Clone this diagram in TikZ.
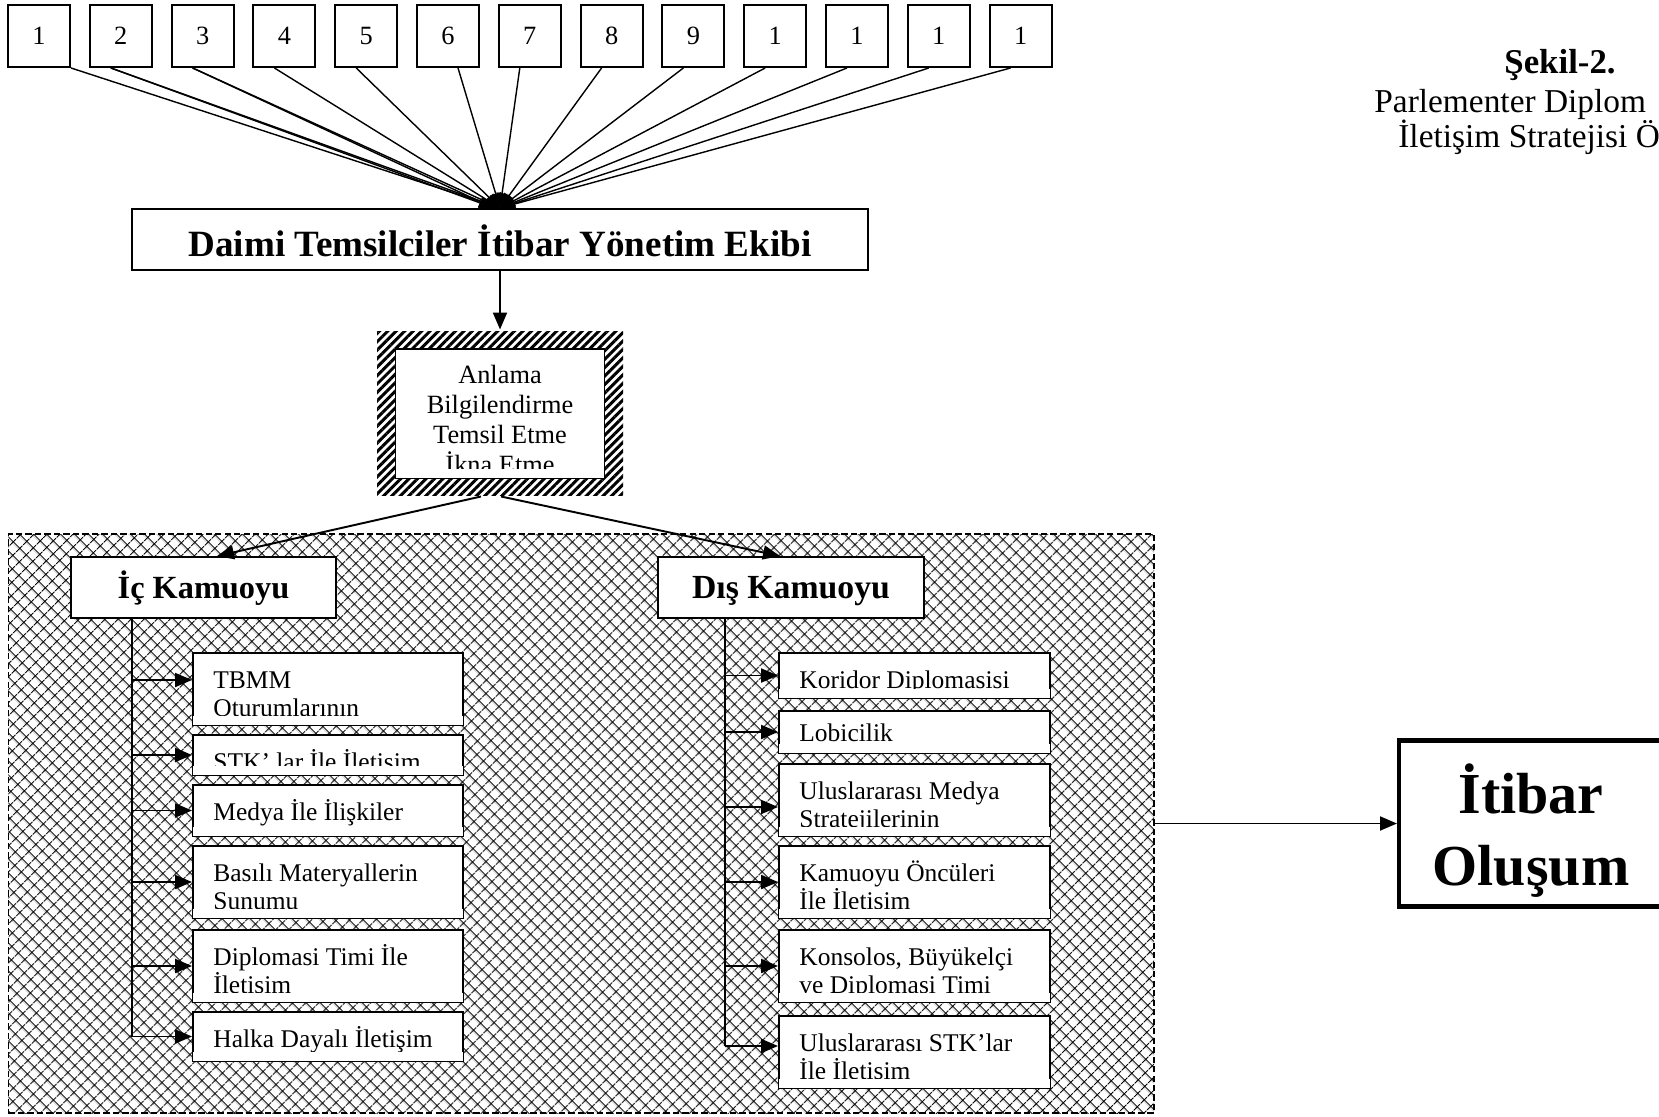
\documentclass[tikz,border=0pt]{standalone}
\usepackage{fontspec}
\setmainfont{Liberation Serif}
\usetikzlibrary{arrows.meta,patterns.meta}

\begin{document}
\begin{tikzpicture}[
        every node/.style={inner sep=0pt},
        numbox/.style={draw, line width=1.1pt, minimum width=1.24cm, minimum height=1.24cm, font=\fontsize{15}{18}\selectfont},
        fan/.style={line width=0.8pt, -{Triangle[length=0.3cm,width=0.22cm]}},
        arr/.style={line width=1.1pt, -{Triangle[length=0.34cm,width=0.28cm]}},
        topbox/.style={draw, fill=white, line width=1.1pt},
        leaf/.style={draw, fill=white, line width=1.1pt},
        leaftext/.style={anchor=north west, align=left, font=\fontsize{14.5}{15.9}\selectfont},
    ]
        \useasboundingbox (0,0) rectangle (33.18,-22.32);
        % crosshatched field behind both publics
        \node [draw, line width=0.9pt, dash pattern=on 3.6pt off 1.8pt, pattern={Hatch[angle=45,distance=5.4pt,line width=0.6pt]}, pattern color=black, minimum width=22.91cm, minimum height=11.58cm] (kamu) at (11.625,-16.47) {};
        \node [numbox] (n1) at (0.78,-0.72) {1};
        \node [numbox] (n2) at (2.416,-0.72) {2};
        \node [numbox] (n3) at (4.052,-0.72) {3};
        \node [numbox] (n4) at (5.688,-0.72) {4};
        \node [numbox] (n5) at (7.324,-0.72) {5};
        \node [numbox] (n6) at (8.96,-0.72) {6};
        \node [numbox] (n7) at (10.596,-0.72) {7};
        \node [numbox] (n8) at (12.232,-0.72) {8};
        \node [numbox] (n9) at (13.868,-0.72) {9};
        \node [numbox] (n10) at (15.504,-0.72) {1};
        \node [numbox] (n11) at (17.14,-0.72) {1};
        \node [numbox] (n12) at (18.776,-0.72) {1};
        \node [numbox] (n13) at (20.412,-0.72) {1};
        \node [topbox, minimum width=14.72cm, minimum height=1.22cm, text height=0.8cm, text depth=0.1cm, font=\bfseries\fontsize{21.1}{25}\selectfont] (ekip) at (10,-4.79) {Daimi Temsilciler İtibar Yönetim Ekibi};
        \draw [fan] (n1.south east) -- (ekip.north);
        \draw [fan] ([xshift=-0.2cm]n2.south) -- (ekip.north);
        \draw [fan] ([xshift=-0.2cm]n2.south) -- ([xshift=-0.12cm]ekip.north);
        \draw [fan] ([xshift=-0.2cm]n3.south) -- (ekip.north);
        \draw [fan] ([xshift=-0.2cm]n3.south) -- ([xshift=-0.12cm]ekip.north);
        \draw [fan] ([xshift=-0.2cm]n4.south) -- (ekip.north);
        \draw [fan] ([xshift=-0.2cm]n5.south) -- (ekip.north);
        \draw [fan] ([xshift=0.2cm]n6.south) -- (ekip.north);
        \draw [fan] ([xshift=-0.2cm]n7.south) -- (ekip.north);
        \draw [fan] ([xshift=-0.2cm]n8.south) -- (ekip.north);
        \draw [fan] ([xshift=-0.2cm]n9.south) -- (ekip.north);
        \draw [fan] ([xshift=-0.2cm]n10.south) -- (ekip.north);
        \draw [fan] ([xshift=-0.2cm]n11.south) -- (ekip.north);
        \draw [fan] ([xshift=-0.2cm]n12.south) -- (ekip.north);
        \draw [fan] ([xshift=-0.2cm]n13.south) -- (ekip.north);
        \node [minimum width=4.92cm, minimum height=3.28cm, pattern={Lines[angle=45,distance=3.4pt,line width=1.7pt]}] (hb) at (10,-8.26) {};
        \node [topbox, minimum width=4.18cm, minimum height=2.58cm] (hbi) at (10,-8.27) {};
        \node [anchor=north, align=center, font=\fontsize{15}{17}\selectfont] (hbt) at (hbi.north) {\rule{0pt}{0.70cm}Anlama\\Bilgilendirme\\Temsil Etme\\İkna Etme};
        \draw [arr] (ekip.south) -- (hb.north);
        \node [topbox, minimum width=5.30cm, minimum height=1.22cm, text height=0.55cm, text depth=0.13cm, font=\bfseries\fontsize{18.4}{22}\selectfont] (ic) at (4.07,-11.75) {İç Kamuoyu};
        \node [topbox, minimum width=5.32cm, minimum height=1.22cm, text height=0.55cm, text depth=0.13cm, font=\bfseries\fontsize{19.2}{22}\selectfont] (dis) at (15.82,-11.75) {Dış Kamuoyu};
        \draw [arr] ([xshift=-0.38cm]hb.south) -- ([xshift=0.27cm]ic.north);
        \draw [arr] ([xshift=0.02cm]hb.south) -- ([xshift=-0.22cm]dis.north);
        % inner public
        \node [leaf, minimum width=5.4cm, minimum height=1.44cm] (c1) at (6.56,-13.78) {};
        \node [leaf, minimum width=5.4cm, minimum height=0.80cm] (c2) at (6.56,-15.10) {};
        \node [leaf, minimum width=5.4cm, minimum height=1.02cm] (c3) at (6.56,-16.21) {};
        \node [leaf, minimum width=5.4cm, minimum height=1.44cm] (c4) at (6.56,-17.64) {};
        \node [leaf, minimum width=5.4cm, minimum height=1.44cm] (c5) at (6.56,-19.32) {};
        \node [leaf, minimum width=5.4cm, minimum height=0.98cm] (c6) at (6.56,-20.73) {};
        \node [leaftext] (c1t) at ([xshift=0.42cm]c1.north west) {\rule{0pt}{0.72cm}TBMM\\Oturumlarının};
        \node [leaftext] (c2t) at ([xshift=0.42cm]c2.north west) {\rule{0pt}{0.72cm}STK’ lar İle İletişim};
        \node [leaftext] (c3t) at ([xshift=0.42cm]c3.north west) {\rule{0pt}{0.72cm}Medya İle İlişkiler};
        \node [leaftext] (c4t) at ([xshift=0.42cm]c4.north west) {\rule{0pt}{0.72cm}Basılı Materyallerin\\Sunumu};
        \node [leaftext] (c5t) at ([xshift=0.42cm]c5.north west) {\rule{0pt}{0.72cm}Diplomasi Timi İle\\İletişim};
        \node [leaftext] (c6t) at ([xshift=0.42cm]c6.north west) {\rule{0pt}{0.72cm}Halka Dayalı İletişim};
        % outer public
        \node [leaf, minimum width=5.42cm, minimum height=0.90cm] (d1) at (18.29,-13.51) {};
        \node [leaf, minimum width=5.42cm, minimum height=0.84cm] (d2) at (18.29,-14.64) {};
        \node [leaf, minimum width=5.42cm, minimum height=1.44cm] (d3) at (18.29,-16.00) {};
        \node [leaf, minimum width=5.42cm, minimum height=1.44cm] (d4) at (18.29,-17.64) {};
        \node [leaf, minimum width=5.42cm, minimum height=1.44cm] (d5) at (18.29,-19.32) {};
        \node [leaf, minimum width=5.42cm, minimum height=1.44cm] (d6) at (18.29,-21.04) {};
        \node [leaftext] (d1t) at ([xshift=0.42cm]d1.north west) {\rule{0pt}{0.72cm}Koridor Diplomasisi};
        \node [leaftext] (d2t) at ([xshift=0.42cm]d2.north west) {\rule{0pt}{0.62cm}Lobicilik};
        \node [leaftext] (d3t) at ([xshift=0.42cm]d3.north west) {\rule{0pt}{0.72cm}Uluslararası Medya\\Stratejilerinin};
        \node [leaftext] (d4t) at ([xshift=0.42cm]d4.north west) {\rule{0pt}{0.72cm}Kamuoyu Öncüleri\\İle İletişim};
        \node [leaftext] (d5t) at ([xshift=0.42cm]d5.north west) {\rule{0pt}{0.72cm}Konsolos, Büyükelçi\\ve Diplomasi Timi};
        \node [leaftext] (d6t) at ([xshift=0.42cm]d6.north west) {\rule{0pt}{0.72cm}Uluslararası STK’lar\\İle İletişim};
        % text running past the bottom of a box is cut off
        \foreach \b in {hbi,c1,c2,c3,c4,c5,c6,d1,d2,d3,d4,d5,d6}
            \fill [white] ([shift={(0.025,0.025)}]\b.south west) rectangle ([shift={(-0.025,0.2)}]\b.south east);
        \coordinate (ics) at (2.64,-12.36);
        \coordinate (c1a) at ([yshift=0.18cm]c1.west);
        \draw [line width=1.1pt] (ics) -- (ics |- c6.west);
        \draw [arr] (ics |- c1a) -- (c1a);
        \draw [arr] (ics |- c2.west) -- (c2.west);
        \draw [arr] (ics |- c3.west) -- (c3.west);
        \draw [arr] (ics |- c4.west) -- (c4.west);
        \draw [arr] (ics |- c5.west) -- (c5.west);
        \draw [arr] (ics |- c6.west) -- (c6.west);
        \coordinate (dss) at (14.5,-12.36);
        \coordinate (d3a) at ([yshift=-0.14cm]d3.west);
        \coordinate (d6a) at ([yshift=0.12cm]d6.west);
        \draw [line width=1.1pt] (dss) -- (dss |- d6a);
        \draw [arr] (dss |- d1.west) -- (d1.west);
        \draw [arr] (dss |- d2.west) -- (d2.west);
        \draw [arr] (dss |- d3a) -- (d3a);
        \draw [arr] (dss |- d4.west) -- (d4.west);
        \draw [arr] (dss |- d5.west) -- (d5.west);
        \draw [arr] (dss |- d6a) -- (d6a);
        \node [draw, line width=2.3pt, minimum width=5.28cm, minimum height=3.32cm] (itibar) at (30.62,-16.47) {};
        \node [align=center, font=\bfseries\fontsize{33}{41}\selectfont] (itibart) at ([yshift=-0.15cm]itibar.center) {İtibar\\Oluşum};
        \draw [arr] (kamu.east) -- (itibar.west);
        \node [anchor=base, font=\bfseries\fontsize{19.8}{22}\selectfont] (sekil) at (31.2,-1.47) {Şekil-2.};
        \node [anchor=base west, font=\fontsize{19}{22}\selectfont] (baslik1) at (27.48,-2.26) {Parlementer Diplom};
        \node [anchor=base west, font=\fontsize{19}{22}\selectfont] (baslik2) at (27.96,-2.96) {İletişim Stratejisi Ö};
\end{tikzpicture}
\end{document}
